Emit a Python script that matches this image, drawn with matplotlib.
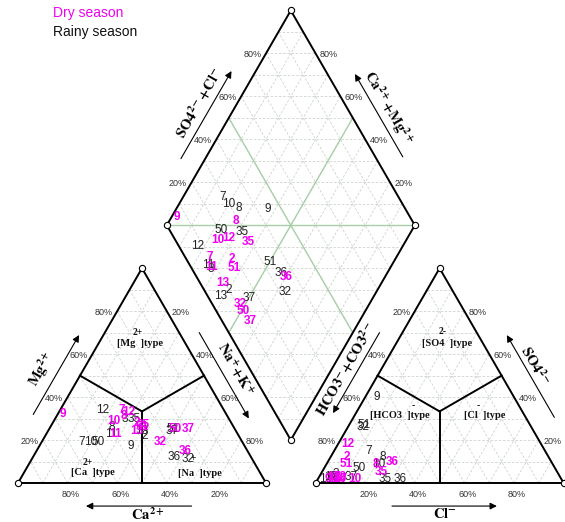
import numpy as np
import matplotlib
matplotlib.use('Agg')
import matplotlib.pyplot as plt

plt.rcParams['font.family'] = ['Liberation Sans', 'DejaVu Sans']
plt.rcParams['mathtext.fontset'] = 'stix'

# ---- data (percent) ----
rainy_id = [2, 3, 7, 8, 9, 10, 11, 12, 13, 32, 35, 36, 37, 50, 51]
rainy_mg = [22, 30, 19, 26, 17, 19, 23, 34, 24, 11, 30, 12, 24, 19, 25]
rainy_na = [40, 28, 16, 25, 37, 20, 26, 17, 38, 63, 32, 57, 50, 23, 50]
rainy_so4 = [4, 3, 15, 12, 40, 9, 2, 3, 2, 26, 2, 2, 3, 7, 27]
rainy_cl = [6, 4.5, 14, 21, 4.5, 21, 5.5, 4.5, 3, 6, 27, 33, 13, 14, 6]

dry_id = [2, 7, 8, 9, 10, 11, 12, 13, 32, 35, 36, 37, 50, 51]
dry_mg = [28, 34, 31, 32, 29, 23, 33, 24, 19, 27, 15, 25, 25, 26]
dry_na = [34, 25, 27, 2, 24, 28, 28, 36, 48, 37, 60, 56, 51, 37]
dry_so4 = [12, 3, 9, 2, 2, 2, 18, 3, 3, 5, 10, 2, 2, 9]
dry_cl = [6.5, 7, 20, 4, 15, 6.5, 4, 6, 8.5, 24, 26, 9.5, 9, 8]

ticks = [20, 40, 60, 80]

DRY_COLOR = '#f000f0'
RAINY_COLOR = '#222222'

# ---- geometry ----
H = np.sqrt(3) / 2
GAP = 0.2
OX = 1 + GAP
BOT = (1 + GAP / 2, GAP * H)


def cation_xy(mg, na):
    return na + mg / 2, mg * H


def anion_xy(so4, cl):
    return OX + cl + so4 / 2, so4 * H


def diamond_xy(c, a):
    # c = Ca+Mg fraction, a = SO4+Cl fraction
    return BOT[0] + 0.5 * (a - c), BOT[1] + H * (a + c)


def along(p0, p1, t, off):
    p0 = np.array(p0, float)
    p1 = np.array(p1, float)
    d = (p1 - p0) / np.linalg.norm(p1 - p0)
    n = np.array([-d[1], d[0]])
    return p0 + t * (p1 - p0) + off * n


fig = plt.figure(figsize=(5.65, 5.22), dpi=100)
ax = fig.add_axes([0, 0, 1, 1])
ax.set_xlim(-18 / 248, 547 / 248)
ax.set_ylim(-39 / 248, 483 / 248)
ax.axis('off')

grid_kw = dict(color='#ccd4cc', lw=0.6, ls=(0, (3, 2)), zorder=1)

# triangle grids and frames
for x0 in [0, OX]:
    for k in range(1, 10):
        f = k / 10
        ax.plot([x0 + f / 2, x0 + 1 - f / 2], [f * H, f * H], **grid_kw)
        ax.plot([x0 + f, x0 + f + (1 - f) / 2], [0, (1 - f) * H], **grid_kw)
        ax.plot([x0 + f, x0 + f / 2], [0, f * H], **grid_kw)
    ax.plot([x0, x0 + 1, x0 + 0.5, x0], [0, 0, H, 0], color='black', lw=1.4, zorder=2)
    cx, cy = x0 + 0.5, H / 3
    for ex, ey in [(x0 + 0.25, H / 2), (x0 + 0.75, H / 2), (x0 + 0.5, 0)]:
        ax.plot([cx, ex], [cy, ey], color='black', lw=1.4, zorder=2)

# diamond grid
for k in range(1, 10):
    f = k / 10
    p, q = diamond_xy(f, 0), diamond_xy(f, 1)
    ax.plot([p[0], q[0]], [p[1], q[1]], **grid_kw)
    p, q = diamond_xy(0, f), diamond_xy(1, f)
    ax.plot([p[0], q[0]], [p[1], q[1]], **grid_kw)
for k in range(1, 20):
    s = k / 10
    if s <= 1:
        p, q = diamond_xy(s, 0), diamond_xy(0, s)
    else:
        p, q = diamond_xy(1, s - 1), diamond_xy(s - 1, 1)
    ax.plot([p[0], q[0]], [p[1], q[1]], **grid_kw)

green_kw = dict(color='#a9cfa9', lw=1.0, zorder=1.5)
for (c0, a0), (c1, a1) in [((0.5, 0), (0.5, 1)), ((0, 0.5), (1, 0.5)), ((1, 0), (0, 1))]:
    p, q = diamond_xy(c0, a0), diamond_xy(c1, a1)
    ax.plot([p[0], q[0]], [p[1], q[1]], **green_kw)

dv = [diamond_xy(0, 0), diamond_xy(1, 0), diamond_xy(1, 1), diamond_xy(0, 1), diamond_xy(0, 0)]
ax.plot([v[0] for v in dv], [v[1] for v in dv], color='black', lw=1.4, zorder=2)

# vertex circles
vx = [0, 1, 0.5, OX, OX + 1, OX + 0.5] + [v[0] for v in dv[:4]]
vy = [0, 0, H, 0, 0, H] + [v[1] for v in dv[:4]]
ax.plot(vx, vy, 'o', mfc='white', mec='black', ms=4.5, mew=0.8, zorder=3)

# tick labels
tk = dict(fontsize=6.5, color='#333333', va='center')
for v in ticks:
    f = v / 100
    ax.text(1 - f + 0.012, -0.048, f'{v}%', ha='center', **tk)
    ax.text(OX + f + 0.012, -0.048, f'{v}%', ha='center', **tk)
    ax.text(f / 2 - 0.018, f * H - 0.006, f'{v}%', ha='right', **tk)
    ax.text(0.5 + f / 2 + 0.018, (1 - f) * H - 0.006, f'{v}%', ha='left', **tk)
    ax.text(OX + (1 - f) / 2 - 0.018, (1 - f) * H - 0.006, f'{v}%', ha='right', **tk)
    ax.text(OX + 1 - f / 2 + 0.018, f * H - 0.006, f'{v}%', ha='left', **tk)
    p = diamond_xy(1, f)
    ax.text(p[0] - 0.018, p[1] - 0.006, f'{v}%', ha='right', **tk)
    p = diamond_xy(f, 1)
    ax.text(p[0] + 0.018, p[1] - 0.006, f'{v}%', ha='left', **tk)

# axis titles and arrows
arrow_kw = dict(arrowstyle='-|>', color='black', lw=0.8, mutation_scale=10, shrinkA=0, shrinkB=0)
lab_kw = dict(fontsize=10.5, ha='center', va='center', color='black')

top_l = diamond_xy(1, 1)
left_v = diamond_xy(1, 0)
right_v = diamond_xy(0, 1)
edges = [
    # p0, p1, arrow t tail, t head, arrow off, label t, label off, text, rotation
    ((0, 0), (0.5, H), 0.27, 0.64, 0.085, 0.445, 0.145, r'$\mathbf{Mg}^{\mathbf{2+}}$', 60),
    ((0.5, H), (1, 0), 0.34, 0.74, 0.07, 0.54, 0.125, r'$\mathbf{Na}^{\mathbf{+}}\mathbf{+K}^{\mathbf{+}}$', -60),
    ((OX, 0), (OX + 0.5, H), 0.654, 0.279, 0.08, 0.458, 0.125,
     r'$\mathbf{HCO3}^{\mathbf{-}}\mathbf{+CO3}^{\mathbf{2-}}$', 60),
    ((OX + 0.5, H), (OX + 1, 0), 0.752, 0.369, 0.10, 0.533, 0.135, r'$\mathbf{SO4}^{\mathbf{2-}}$', -60),
    (left_v, top_l, 0.261, 0.669, 0.085, 0.494, 0.135, r'$\mathbf{SO4}^{\mathbf{2-}}\mathbf{+Cl}^{\mathbf{-}}$', 60),
    (top_l, right_v, 0.737, 0.351, 0.096, 0.536, 0.145,
     r'$\mathbf{Ca}^{\mathbf{2+}}\mathbf{+Mg}^{\mathbf{2+}}$', -60),
]
for p0, p1, t0, t1, off, tl, offl, txt, rot in edges:
    tail = along(p0, p1, t0, off)
    head = along(p0, p1, t1, off)
    ax.annotate('', xy=head, xytext=tail, arrowprops=arrow_kw)
    lp = along(p0, p1, tl, offl)
    ax.text(lp[0], lp[1], txt, rotation=rot, rotation_mode='anchor', **lab_kw)

ax.annotate('', xy=(0.274, -0.093), xytext=(0.70, -0.093), arrowprops=arrow_kw)
ax.text(0.524, -0.126, r'$\mathbf{Ca}^{\mathbf{2+}}$', **lab_kw)
ax.annotate('', xy=(OX + 0.731, -0.093), xytext=(OX + 0.308, -0.093), arrowprops=arrow_kw)
ax.text(OX + 0.522, -0.126, r'$\mathbf{Cl}^{\mathbf{-}}$', **lab_kw)

# water type labels
type_kw = dict(fontsize=7.5, family='Liberation Serif', weight='bold', ha='center', va='center', color='#111111')
types = [
    ('[Mg  ]type', (0.492, 0.5645), '2+', (0.482, 0.605)),
    ('[Ca  ]type', (0.302, 0.044), '2+', (0.282, 0.081)),
    ('[Na  ]type', (0.734, 0.040), '+', (0.706, 0.100)),
    ('[SO4  ]type', (OX + 0.53, 0.5645), '2-', (OX + 0.512, 0.609)),
    ('[HCO3  ]type', (OX + 0.34, 0.274), '-', (OX + 0.393, 0.312)),
    ('[Cl  ]type', (OX + 0.683, 0.274), '-', (OX + 0.655, 0.312)),
]
for txt, pos, sup, spos in types:
    ax.text(pos[0], pos[1], txt, **type_kw)
    ax.text(spos[0], spos[1], sup, **dict(type_kw, fontsize=7))

# sample labels
pt_kw = dict(fontsize=8.5, ha='center', va='center', zorder=5)
for ids, mg, na, so4, cl, col, wt in [
        (rainy_id, rainy_mg, rainy_na, rainy_so4, rainy_cl, RAINY_COLOR, 'normal'),
        (dry_id, dry_mg, dry_na, dry_so4, dry_cl, DRY_COLOR, 'bold')]:
    for i, s in enumerate(ids):
        m, n = mg[i] / 100, na[i] / 100
        so, c = so4[i] / 100, cl[i] / 100
        x, y = cation_xy(m, n)
        ax.text(x, y, str(s), color=col, weight=wt, **pt_kw)
        x, y = anion_xy(so, c)
        ax.text(x, y, str(s), color=col, weight=wt, **pt_kw)
        x, y = diamond_xy(1 - n, so + c)
        ax.text(x, y, str(s), color=col, weight=wt, **pt_kw)

# legend
fig.text(53 / 565, 1 - 13 / 522, 'Dry season', color=DRY_COLOR, fontsize=10, ha='left', va='center')
fig.text(53 / 565, 1 - 32 / 522, 'Rainy season', color='#111111', fontsize=10, ha='left', va='center')

fig.savefig('out.png', dpi=100)
